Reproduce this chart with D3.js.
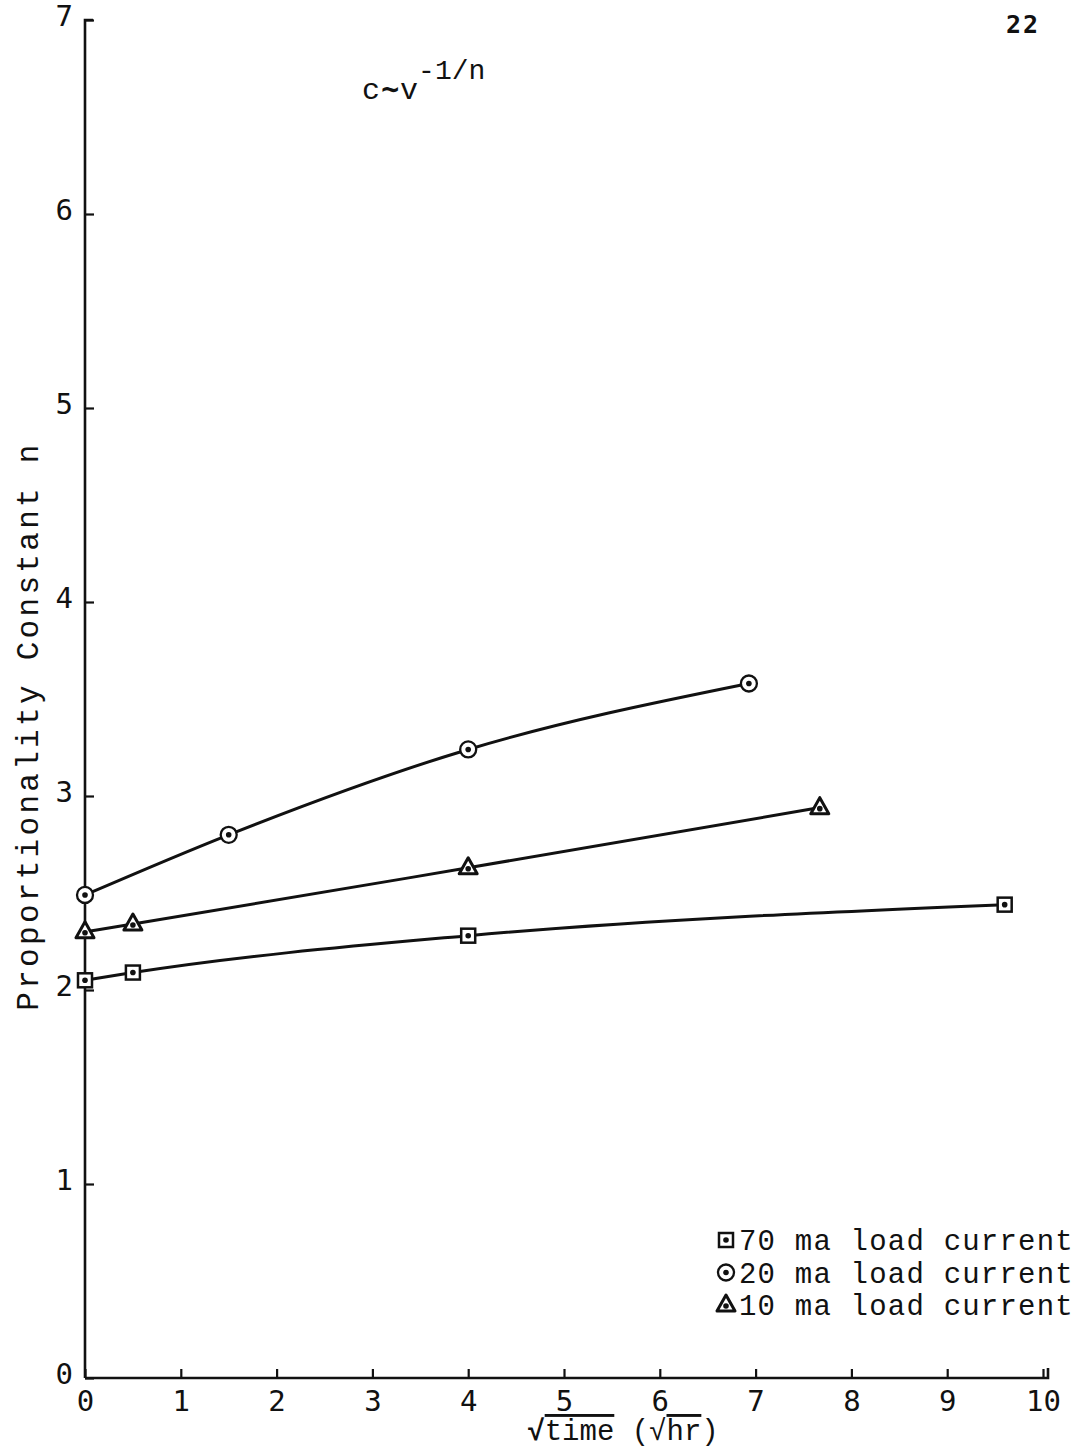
<!DOCTYPE html>
<html><head><meta charset="utf-8">
<script src="https://cdn.jsdelivr.net/npm/d3@7"></script>
<style>body{margin:0;background:#fff}text{fill:#111}</style>
</head><body>
<svg id="c" width="1088" height="1449"></svg>
<script>
const xTicks=[0,1,2,3,4,5,6,7,8,9,10];
const yTicks=[0,1,2,3,4,5,6,7];
const s70x=[0,0.5,4,9.6];
const s70y=[2.05,2.09,2.28,2.44];
const s20x=[0,1.5,4,6.93];
const s20y=[2.49,2.80,3.24,3.58];
const s10x=[0,0.5,4,7.67];
const s10y=[2.30,2.34,2.63,2.94];
const seriesNames=["70 ma load current","20 ma load current","10 ma load current"];
const seriesShapes=["square","circle","triangle"];

const svg=d3.select("#c");
const x=d3.scaleLinear().domain([0,10]).range([85,1043]);
const y=d3.scaleLinear().domain([0,7]).range([1378,20]);
const mono="'Liberation Mono','DejaVu Sans Mono',monospace";
const ink="#111";

// axes
const xa=svg.append("g").attr("transform","translate(0,1378)")
 .call(d3.axisBottom(x).tickValues(xTicks).tickSize(-9).tickPadding(12).tickFormat(d3.format("d")));
const ya=svg.append("g").attr("transform","translate(85,0)")
 .call(d3.axisLeft(y).tickValues(yTicks).tickSize(-9).tickPadding(12).tickFormat(d3.format("d")));
[xa,ya].forEach(g=>{
 g.select(".domain").attr("stroke",ink).attr("stroke-width",2.6);
 g.selectAll(".tick line").attr("stroke",ink).attr("stroke-width",2.2);
 g.selectAll(".tick text").attr("font-family","'DejaVu Sans Mono',monospace").attr("font-size",29).attr("fill",ink);
});
xa.select(".domain").attr("d","M85,0H1048V-10");
ya.select(".domain").attr("d","M0,1378V20H8");
ya.selectAll(".tick text").attr("dy","0.2em");

// lines
const line=d3.line().x(d=>x(d[0])).y(d=>y(d[1])).curve(d3.curveMonotoneX);
const data=[
 d3.zip(s70x,s70y),
 d3.zip(s20x,s20y),
 d3.zip(s10x,s10y)];
data.forEach(ds=>{
 svg.append("path").datum(ds).attr("d",line).attr("fill","none").attr("stroke",ink).attr("stroke-width",3);
});

function marker(g,shape,cx,cy){
 if(shape==="square"){
  g.append("rect").attr("x",cx-7).attr("y",cy-7).attr("width",14).attr("height",14)
   .attr("fill","#fff").attr("stroke",ink).attr("stroke-width",2.5);
 } else if(shape==="circle"){
  g.append("circle").attr("cx",cx).attr("cy",cy).attr("r",8)
   .attr("fill","#fff").attr("stroke",ink).attr("stroke-width",2.3);
 } else {
  g.append("path").attr("d",`M${cx},${cy-10}L${cx+9},${cy+6}L${cx-9},${cy+6}Z`)
   .attr("fill","#fff").attr("stroke",ink).attr("stroke-width",3).attr("stroke-linejoin","round");
 }
 g.append("circle").attr("cx",cx).attr("cy",cy+(shape==="triangle"?1:0)).attr("r",2.8).attr("fill",ink);
}
data.forEach((ds,i)=>{
 ds.forEach(d=>marker(svg.append("g"),seriesShapes[i],x(d[0]),y(d[1])));
});

// legend
seriesNames.forEach((n,i)=>{
 const ly=1241+i*32.5;
 marker(svg.append("g"),seriesShapes[i],726,ly-1);
 svg.append("text").attr("x",739).attr("y",ly+9).attr("font-family",mono)
  .attr("font-size",29).attr("letter-spacing",1.2).text(n);
});

// y label
svg.append("text").attr("transform","translate(38,726) rotate(-90)").attr("text-anchor","middle")
 .attr("font-family",mono).attr("font-size",31).attr("letter-spacing",3.3).text("Proportionality Constant n");

// formula
const f=svg.append("text").attr("x",362).attr("y",99).attr("font-family",mono).attr("font-size",30);
f.append("tspan").text("c");
f.append("tspan").attr("font-weight","bold").attr("dx",1).text("∼");
f.append("tspan").attr("dx",1).text("v");
f.append("tspan").attr("dy",-20).attr("font-size",28).text("-1/n");

// page number
svg.append("text").attr("x",1040).attr("y",33).attr("text-anchor","end").attr("font-family","'DejaVu Sans Mono',monospace")
 .attr("font-size",25).attr("font-weight","bold").attr("letter-spacing",2).text("22");

// x label
const xl=svg.append("text").attr("x",623).attr("y",1440).attr("text-anchor","middle").attr("font-family",mono).attr("font-size",29);
xl.append("tspan").attr("font-weight","bold").text("√");
xl.append("tspan").attr("text-decoration","overline").text("time");
xl.append("tspan").text(" (√");
xl.append("tspan").attr("text-decoration","overline").text("hr");
xl.append("tspan").text(")");
</script>
</body></html>
